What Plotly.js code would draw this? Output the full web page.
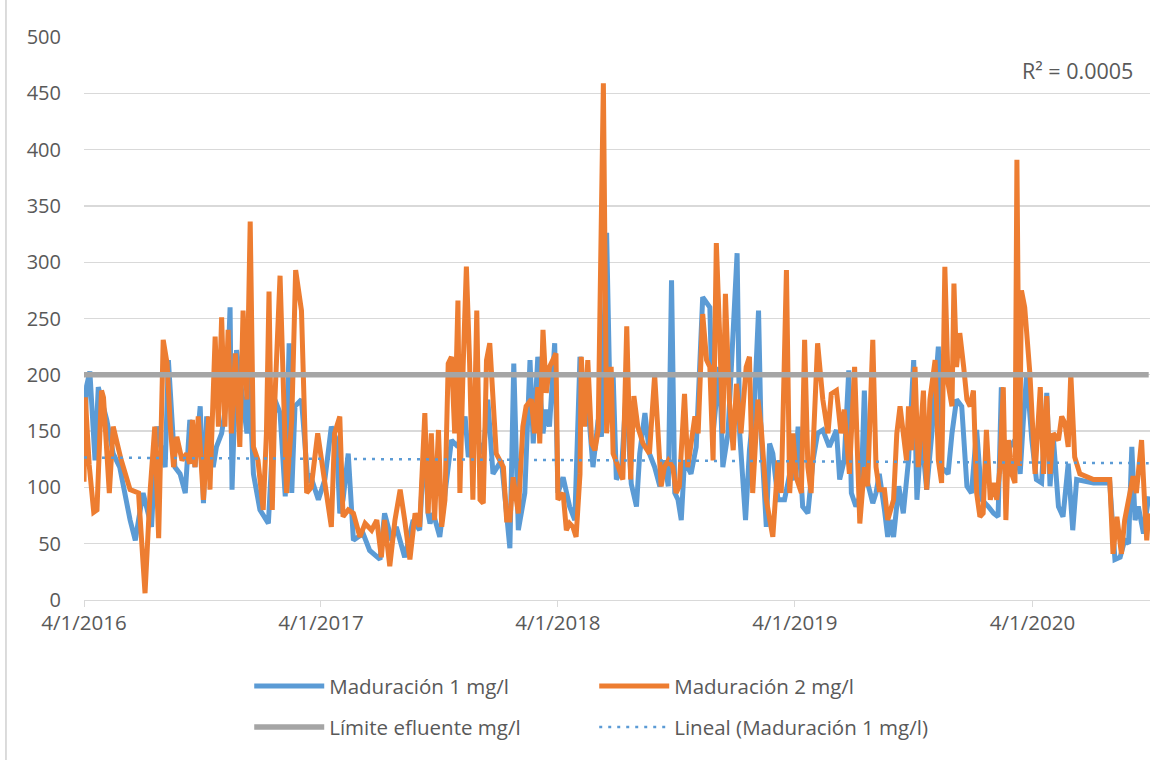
<!DOCTYPE html>
<html><head><meta charset="utf-8">
<script src="https://cdn.plot.ly/plotly-3.0.1.min.js"></script>
<style>html,body{margin:0;padding:0;background:#fff}#chart{width:1175px;height:760px}</style>
</head><body><div id="chart"></div>
<script>
// Days since 4/1/2016 and values (mg/l)
const blueDays = [0,4,9,17,22,35,45,55,71,79,84,91,104,112,125,130,140,148,156,163,171,179,184,189,199,204,212,220,225,228,235,245,251,253,261,271,284,294,302,310,316,320,325,335,345,348,361,371,381,389,394,399,407,415,430,440,456,463,474,481,494,507,517,525,530,533,538,548,556,566,576,587,592,602,615,622,630,643,656,662,669,679,687,692,699,707,712,717,725,730,738,748,756,764,769,779,784,792,797,805,810,815,820,828,835,843,851,856,864,871,879,887,894,900,905,910,915,920,925,935,943,953,964,969,979,984,992,1000,1006,1010,1015,1019,1025,1033,1039,1043,1051,1056,1061,1069,1079,1087,1094,1100,1107,1115,1123,1130,1138,1148,1159,1164,1171,1178,1182,1189,1197,1202,1207,1215,1220,1225,1233,1238,1242,1247,1255,1262,1270,1278,1283,1290,1298,1306,1316,1321,1331,1337,1344,1352,1360,1367,1375,1383,1393,1401,1408,1413,1419,1426,1434,1442,1447,1452,1460,1467,1475,1483,1488,1493,1501,1508,1516,1523,1529,1555,1580,1588,1596,1603,1609,1614,1619,1624,1632,1640];
const blueVals = [130,190,203,124,189,160,130,118,71,53,71,95,65,154,118,213,118,112,95,160,118,172,86,163,118,136,148,178,260,98,222,172,148,213,112,80,68,178,166,92,228,95,172,178,104,112,89,107,154,142,77,89,130,53,59,44,36,77,53,65,38,71,62,148,77,68,77,56,95,142,136,163,127,148,130,178,112,124,46,210,62,95,213,139,216,148,169,154,228,95,109,83,71,216,184,154,118,160,145,326,184,201,107,116,184,103,83,130,166,130,118,101,124,101,284,95,89,71,124,112,136,269,260,148,207,118,148,234,308,148,95,71,133,178,257,148,65,139,130,89,89,112,107,154,83,77,124,148,151,136,151,107,124,204,95,83,95,186,104,86,95,112,80,56,71,56,101,77,124,213,89,148,98,148,225,118,112,148,178,172,101,95,151,89,83,77,74,189,112,136,142,112,160,201,142,107,104,184,101,145,83,74,121,62,107,104,104,36,38,53,50,136,71,83,59,92];

const orangeDays = [0,2,8,15,20,27,30,39,45,57,71,84,94,102,109,115,122,128,133,138,143,151,158,163,167,171,176,184,192,194,202,207,212,217,222,227,233,240,245,251,256,261,268,276,281,285,290,294,302,307,312,320,326,335,343,350,360,371,381,386,394,399,407,415,425,433,443,451,458,463,471,479,487,494,502,510,517,525,530,535,540,546,551,556,561,566,571,576,579,584,589,594,599,605,610,615,620,625,630,635,646,651,656,661,669,676,681,689,694,699,702,707,712,717,727,730,738,743,748,753,758,764,766,771,776,782,787,792,800,805,812,815,823,830,836,842,847,853,861,871,879,884,889,894,900,907,912,917,925,930,935,941,946,953,959,964,969,974,979,984,988,994,1000,1005,1012,1020,1025,1030,1038,1043,1051,1056,1061,1069,1074,1082,1087,1092,1097,1105,1110,1115,1120,1130,1138,1146,1151,1159,1166,1171,1179,1187,1192,1195,1202,1207,1215,1220,1225,1233,1238,1247,1252,1257,1262,1267,1270,1275,1280,1285,1293,1298,1303,1311,1316,1321,1326,1331,1337,1340,1344,1349,1355,1360,1365,1370,1375,1380,1385,1390,1396,1401,1406,1411,1416,1420,1424,1429,1434,1437,1441,1444,1449,1457,1465,1473,1478,1483,1488,1493,1501,1506,1511,1516,1520,1526,1534,1555,1580,1585,1591,1598,1603,1611,1616,1621,1629,1634,1637,1640];
const orangeVals = [105,180,120,78,80,186,180,95,154,125,98,95,6,98,154,55,231,210,154,118,145,124,130,121,160,118,163,89,163,98,234,154,251,154,240,148,219,136,257,178,336,136,124,80,148,274,80,178,288,178,95,160,293,257,95,100,148,104,65,148,163,74,80,77,56,68,62,71,38,71,30,71,98,71,36,77,65,166,77,148,71,151,65,89,210,216,148,266,95,207,296,210,89,257,89,86,213,228,178,130,118,71,71,109,77,154,172,178,148,189,139,240,184,207,219,89,95,62,68,65,56,112,216,154,213,139,133,151,459,148,207,130,118,107,243,107,181,154,139,130,200,140,101,118,124,118,95,101,183,118,142,163,148,254,213,207,124,317,237,148,272,178,133,192,148,207,216,95,178,154,89,70,56,124,95,293,95,148,109,95,231,118,95,228,178,148,183,186,148,169,112,207,104,68,118,101,231,118,98,98,71,89,148,172,148,124,172,133,207,118,186,98,178,213,124,104,296,192,172,281,207,237,207,178,172,186,95,74,77,151,89,104,89,118,189,71,142,112,104,391,119,275,260,201,112,189,112,181,112,148,142,163,157,136,201,127,112,107,107,41,74,41,71,98,110,95,142,83,53,77];

const limitValue = 200;                 // Límite efluente mg/l
const trendEnds = [126.5, 121.5];       // linear trend of Maduración 1 at first/last day
const spanDays = [0, 1640];
const axisDays = [0, 1642];
const tickDates = ['2016-04-01','2017-04-01','2018-04-01','2019-04-01','2020-04-01'];
const tickLabels = ['4/1/2016','4/1/2017','4/1/2018','4/1/2019','4/1/2020'];
const names = ['Maduración 1 mg/l','Maduración 2 mg/l','Límite efluente mg/l','Lineal (Maduración 1 mg/l)'];
const r2Label = 'R² = 0.0005';

function toDate(d){ return new Date(Date.UTC(2016,3,1) + d*86400000).toISOString().slice(0,10); }

const FONT = '"Open Sans", Lato, sans-serif';
const TXT = '#595959';

const traces = [
  {x: blueDays.map(toDate), y: blueVals, name: names[0], type:'scatter', mode:'lines',
   line:{color:'#5B9BD5', width:5}, legend:'legend'},
  {x: orangeDays.map(toDate), y: orangeVals, name: names[1], type:'scatter', mode:'lines',
   line:{color:'#ED7D31', width:5}, legend:'legend'},
  {x: spanDays.map(toDate), y: [limitValue, limitValue], name: names[2], type:'scatter', mode:'lines',
   line:{color:'#A5A5A5', width:5.5}, legend:'legend2'},
  {x: spanDays.map(toDate), y: trendEnds, name: names[3], type:'scatter', mode:'lines',
   line:{color:'#5B9BD5', width:2.5, dash:'3px,6px'}, legend:'legend2'}
];

const legendBase = {orientation:'h', x:0.155, xanchor:'left', yanchor:'middle',
  entrywidth:260, entrywidthmode:'pixels', itemwidth:70,
  font:{family:FONT, size:20.5, color:TXT}, bgcolor:'rgba(0,0,0,0)', traceorder:'normal'};

const layout = {
  width:1175, height:760,
  margin:{l:84, r:25, t:37, b:160},
  paper_bgcolor:'#fff', plot_bgcolor:'#fff',
  font:{family:FONT, size:18, color:TXT},
  showlegend:true,
  xaxis:{type:'date', range: axisDays.map(toDate), tickvals: tickDates, ticktext: tickLabels,
    showgrid:false, showline:true, linecolor:'#D9D9D9', linewidth:1.3, ticks:'outside', ticklen:6,
    tickcolor:'#D9D9D9', ticklabelstandoff:-2, tickfont:{family:FONT, size:20.5, color:TXT}, zeroline:false},
  yaxis:{range:[0,500], dtick:50, tick0:0, showgrid:true, gridcolor:'#D9D9D9', gridwidth:1.3,
    zeroline:false, showline:false, ticks:'', ticklabelstandoff:22,
    tickfont:{family:FONT, size:20, color:TXT}},
  legend:Object.assign({}, legendBase, {y:-0.153}),
  legend2:Object.assign({}, legendBase, {y:-0.226}),
  annotations:[{xref:'paper', yref:'paper', x:0.986, y:0.941, xanchor:'right', yanchor:'middle',
    text:r2Label, showarrow:false, font:{family:FONT, size:21.5, color:TXT}}],
  shapes:[{type:'line', xref:'paper', yref:'paper', x0:-0.0732, x1:-0.0732, y0:-0.284, y1:1.066,
    line:{color:'#D0D0D0', width:1.5}}],
  hovermode:false
};

Plotly.newPlot('chart', traces, layout, {displayModeBar:false, staticPlot:true});
</script></body></html>
